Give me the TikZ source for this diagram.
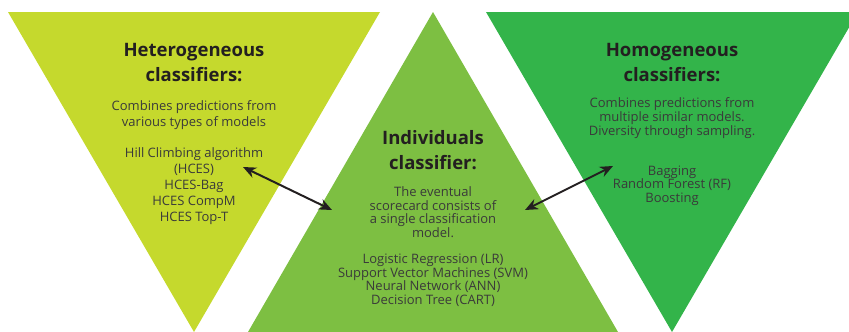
\documentclass[tikz,border=0pt]{standalone}
\usepackage{fontspec}
\setmainfont{Open Sans}
\usetikzlibrary{arrows.meta}

\definecolor{hetgreen}{HTML}{C5D92D}
\definecolor{indgreen}{HTML}{7DBF42}
\definecolor{homgreen}{HTML}{33B44A}
\definecolor{titlegray}{HTML}{231F20}
\definecolor{textgray}{HTML}{3A3A3A}

\tikzset{
  % anchor=base sits on the last line of these blocks
  heading/.style={anchor=base,align=center,inner sep=0pt,text=titlegray,
    font=\bfseries\fontsize{18.5}{24.5}\selectfont},
  blurb/.style={anchor=base,align=center,inner sep=0pt,text=textgray,
    font=\fontsize{13}{#1}\selectfont},
  blurb/.default=15.8,
  biarrow/.style={{Stealth[length=13pt,width=11pt]}-{Stealth[length=13pt,width=11pt]},
    line width=2pt,draw=titlegray}
}

\begin{document}
\begin{tikzpicture}[x=1pt,y=-1pt]
    \useasboundingbox (0,0) rectangle (849,332);
    % the three triangles
    \fill[hetgreen] (8,12) -- (380,12) -- (194,332) -- cycle;
    \fill[indgreen] (433,12) -- (618,332) -- (248,332) -- cycle;
    \fill[homgreen] (486,12) -- (858,12) -- (672,332) -- cycle;

    % heterogeneous
    \node[heading] (hetTitle) at (194,81) {Heterogeneous\\classifiers:};
    \node[blurb] (hetDesc) at (194,126) {Combines predictions from\\various types of models};
    \node[blurb] (hetList) at (194,221) {Hill Climbing algorithm\\(HCES)\\HCES-Bag\\HCES CompM\\HCES Top-T};

    % individuals
    \node[heading] (indTitle) at (433,169) {Individuals\\classifier:};
    \node[blurb=13.4] (indDesc) at (433,237) {The eventual\\scorecard consists of\\a single classification\\model.};
    \node[blurb=13.4] (indList) at (433,304) {Logistic Regression (LR)\\Support Vector Machines (SVM)\\Neural Network (ANN)\\Decision Tree (CART)};

    % homogeneous
    \node[heading] (homTitle) at (672,81) {Homogeneous\\classifiers:};
    \node[blurb=12.6] (homDesc) at (672,135) {Combines predictions from\\multiple similar models.\\Diversity through sampling.};
    \node[blurb=13.4] (homList) at (672,202) {Bagging\\Random Forest (RF)\\Boosting};

    % arrow ends
    \coordinate (hetEnd) at (243,167);
    \coordinate (indLeft) at (332,210);
    \coordinate (indRight) at (525,210);
    \coordinate (homEnd) at (613,166);

    \draw[biarrow] (hetEnd) -- (indLeft);
    \draw[biarrow] (indRight) -- (homEnd);
\end{tikzpicture}
\end{document}
